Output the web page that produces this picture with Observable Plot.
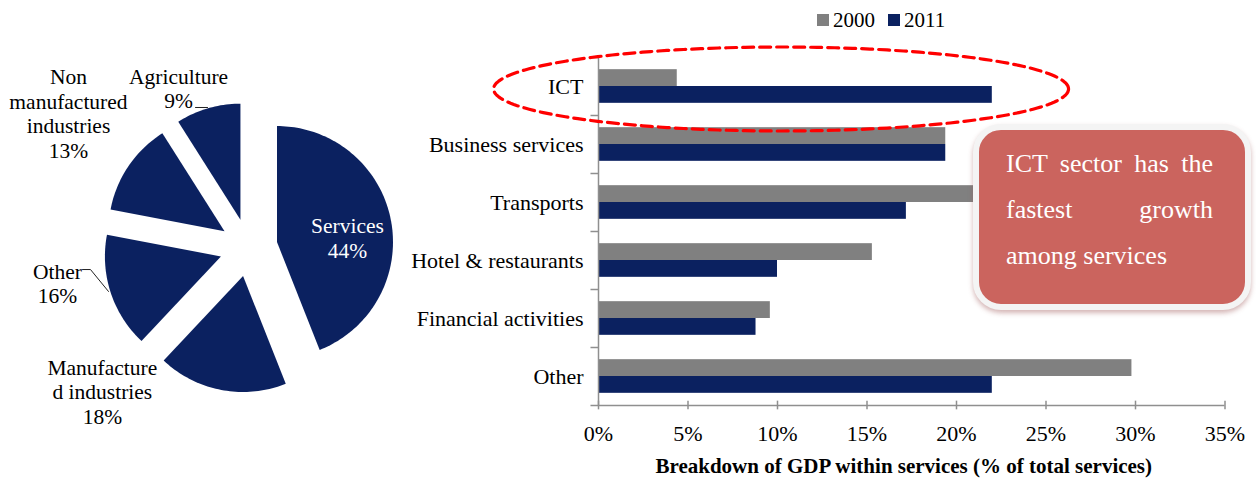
<!DOCTYPE html>
<html><head><meta charset="utf-8">
<script src="https://cdn.jsdelivr.net/npm/d3@7"></script>
<script src="https://cdn.jsdelivr.net/npm/@observablehq/plot@0.6"></script>
<style>
body{margin:0;background:#fff;}
#wrap{position:relative;width:1256px;height:487px;overflow:hidden;font-family:"Liberation Serif","Times New Roman",serif;}
#pie,#bars{position:absolute;top:0;}
#pie{left:0;} #bars{left:400px;}
#legend{position:absolute;top:8px;left:817px;font-size:21px;display:flex;align-items:center;height:24px;color:#000;}
#legend .sw{display:inline-block;width:12px;height:12px;margin-right:4px;}
#legend .it{display:flex;align-items:center;margin-right:13px;}
#callout{position:absolute;left:973px;top:124px;width:278px;height:186px;box-sizing:border-box;border:6px solid #f4f4f4;border-radius:28px;background:#CB645E;box-shadow:0 3px 5px rgba(160,90,90,0.45);color:#fff;font-size:26px;line-height:46px;text-align:justify;padding:11px 32px 0 27px;}
</style></head>
<body>
<div id="wrap">
  <div id="pie"></div>
  <div id="bars"></div>
  <div id="legend"></div>
  <div id="callout">ICT sector has the fastest growth among services</div>
</div>
<script>
// ---------- data ----------
const pieCats = ["Services", "Manufactured industries", "Other", "Non manufactured industries", "Agriculture"];
const pieShares = [44, 18, 16, 13, 9];
const pieLabelLines = ["Services", "Manufacture\nd industries", "Other", "Non\nmanufactured\nindustries", "Agriculture"];

const sectors = ["ICT", "Business services", "Transports", "Hotel & restaurants", "Financial activities", "Other"];
const share2000 = [4.4, 19.4, 21.2, 15.3, 9.6, 29.8];
const share2011 = [22.0, 19.4, 17.2, 10.0, 8.8, 22.0];
const years = ["2000", "2011"];
const yearColors = ["#808080", "#0B2160"];
const xTicks = [0, 5, 10, 15, 20, 25, 30, 35];
const axisTitle = "Breakdown of GDP within services (% of total services)";

// ---------- layout (positions, not data) ----------
const FONT = "Liberation Serif";
const EXPLODE = 0.25;
// label anchor positions in pie unit coordinates
const pieLabelPos = [[0.853, -0.085], [-1.26, 1.24], [-1.647, 0.306], [-1.552, -1.16], [-0.603, -1.375]];
const leaders = [
  [[-0.457, -1.207], [-0.353, -1.207]],
  [[-1.431, 0.19], [-1.362, 0.19], [-1.207, 0.379]]
];

// ---------- pie ----------
const arcs = d3.pie().sort(null).value(d => d)(pieShares);
const slicePts = [];
arcs.forEach((a, i) => {
  const m = (a.startAngle + a.endAngle) / 2;
  const ox = EXPLODE * Math.sin(m), oy = -EXPLODE * Math.cos(m);
  slicePts.push({k: i, x: ox, y: oy});
  const n = Math.max(10, Math.ceil((a.endAngle - a.startAngle) * 40));
  for (let j = 0; j <= n; j++) {
    const t = a.startAngle + (a.endAngle - a.startAngle) * j / n;
    slicePts.push({k: i, x: ox + Math.sin(t), y: oy - Math.cos(t)});
  }
});
const pieLabels = pieCats.map((c, i) => ({
  cat: c, x: pieLabelPos[i][0], y: pieLabelPos[i][1],
  text: pieLabelLines[i] + "\n" + pieShares[i] + "%", inside: i === 0
}));
const leaderPts = leaders.flatMap((l, k) => l.map(p => ({k, x: p[0], y: p[1]})));

const pie = Plot.plot({
  width: 400, height: 487, margin: 0,
  style: {fontFamily: FONT, fontSize: "21px", background: "transparent", overflow: "visible", color: "#000"},
  x: {domain: [-1, 1], range: [132, 364], axis: null},
  y: {domain: [-1, 1], range: [131, 363], axis: null},
  marks: [
    Plot.line(slicePts, {x: "x", y: "y", z: "k", fill: "#0B2160", stroke: "none", curve: "linear"}),
    Plot.line(leaderPts, {x: "x", y: "y", z: "k", stroke: "#222", strokeWidth: 1, curve: "linear"}),
    Plot.text(pieLabels.filter(d => d.inside), {x: "x", y: "y", text: "text", fill: "#fff", fontSize: 21.5, lineHeight: 1.15}),
    Plot.text(pieLabels.filter(d => !d.inside), {x: "x", y: "y", text: "text", fill: "#000", fontSize: 21.5, lineHeight: 1.15})
  ]
});
document.getElementById("pie").append(pie);

// ---------- bars ----------
const rows = sectors.flatMap((s, i) => [
  {sector: s, i, year: years[0], v: share2000[i]},
  {sector: s, i, year: years[1], v: share2011[i]}
]);
const BH = 0.29;
const boundaries = d3.range(-0.5, sectors.length, 1);
// annotation ellipse around ICT (data coordinates)
const ell = {cx: 10.2, rx: 16.06, cy: 0.043, ry: 0.724};
const ellPts = d3.range(0, 201).map(j => {
  const t = 2 * Math.PI * j / 200;
  return {x: ell.cx + ell.rx * Math.cos(t), y: ell.cy + ell.ry * Math.sin(t)};
});

const bars = Plot.plot({
  width: 856, height: 487,
  marginLeft: 198, marginRight: 31.5, marginTop: 57, marginBottom: 82,
  style: {fontFamily: FONT, fontSize: "21px", background: "transparent", overflow: "visible", color: "#000"},
  x: {domain: [0, 35]},
  y: {domain: [sectors.length - 0.5, -0.5]},
  color: {domain: years, range: yearColors},
  marks: [
    Plot.rect(rows, {
      x1: 0, x2: "v",
      y1: d => d.year === years[0] ? d.i - BH : d.i,
      y2: d => d.year === years[0] ? d.i : d.i + BH,
      fill: "year"
    }),
    Plot.ruleX([0], {y1: -0.5, y2: sectors.length - 0.5, stroke: "#8f8f8f", strokeWidth: 1.5}),
    Plot.ruleY(boundaries, {y: d => d, x1: -0.42, x2: 0, stroke: "#8f8f8f", strokeWidth: 1.5}),
    Plot.ruleY([sectors.length - 0.5], {x1: 0, x2: 35, stroke: "#8f8f8f", strokeWidth: 1.5}),
    Plot.ruleX(xTicks, {x: d => d, y1: sectors.length - 0.5 - 0.075, y2: sectors.length - 0.5 + 0.075, stroke: "#8f8f8f", strokeWidth: 1.5}),
    Plot.axisX({ticks: xTicks, tickSize: 0, tickPadding: 20, tickFormat: d => d + "%", label: null, fontSize: 22, fill: "#000"}),
    Plot.axisY({ticks: d3.range(sectors.length), tickSize: 0, tickPadding: 15, tickFormat: i => sectors[i], label: null, fontSize: 22, fill: "#000"}),
    Plot.text([axisTitle], {frameAnchor: "bottom", dy: 67, dx: -8, fontWeight: "bold", fontSize: 21, fill: "#000"}),
    Plot.line(ellPts, {x: "x", y: "y", stroke: "#FF0000", strokeWidth: 3.2, strokeDasharray: "11,6", curve: "linear"})
  ]
});
document.getElementById("bars").append(bars);

// ---------- legend ----------
const lg = document.getElementById("legend");
years.forEach((y, k) => {
  const it = document.createElement("span"); it.className = "it";
  const sw = document.createElement("span"); sw.className = "sw"; sw.style.background = yearColors[k];
  it.append(sw, document.createTextNode(y));
  lg.append(it);
});
</script>
</body></html>
